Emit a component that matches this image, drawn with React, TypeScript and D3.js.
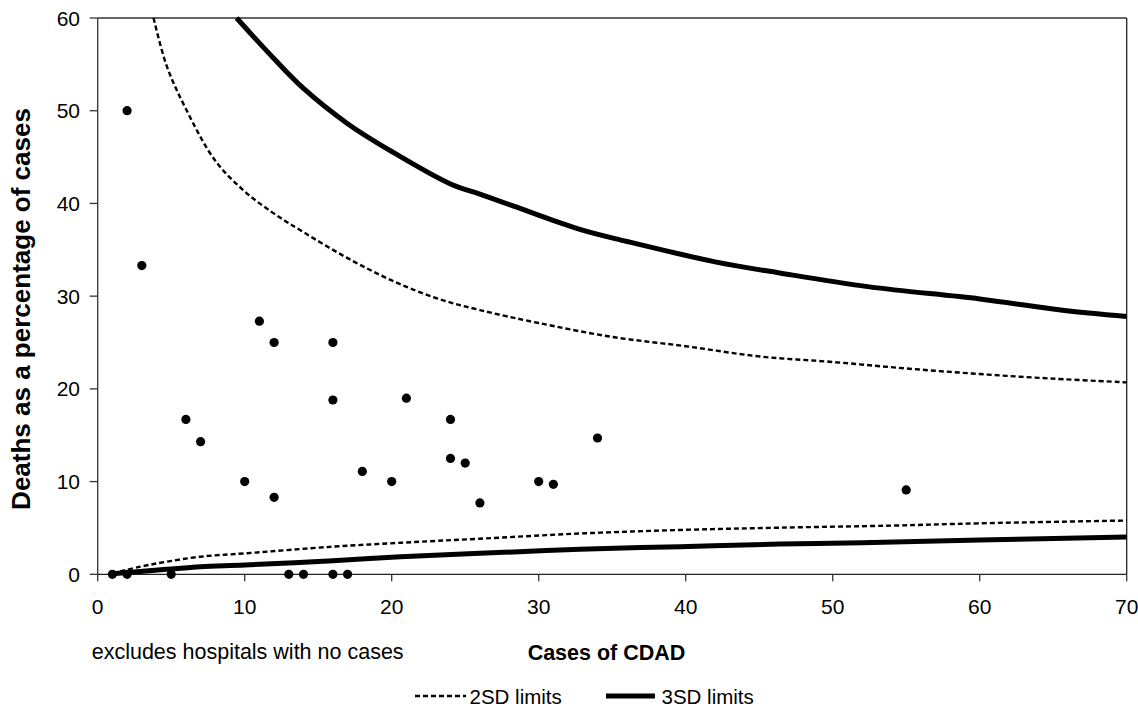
import React from "react";
import * as d3 from "d3";

// Hospitals: cases of CDAD and deaths as % of cases
const casesX = [1, 2, 2, 3, 5, 6, 7, 10, 11, 12, 12, 13, 14, 16, 16, 16, 17, 18, 20, 21, 24, 24, 25, 26, 30, 31, 34, 55];
const deathPct = [0, 50, 0, 33.3, 0, 16.7, 14.3, 10, 27.3, 25, 8.3, 0, 0, 25, 18.8, 0, 0, 11.1, 10, 19.0, 16.7, 12.5, 12, 7.7, 10, 9.7, 14.7, 9.1];

// Control limits
const upper2N = [3.8, 4.7, 6, 8, 10, 12, 14, 17, 20, 23, 26, 30, 35, 40, 45, 50, 55, 60, 65, 70];
const upper2 = [60, 54.8, 50.2, 44.6, 41.3, 38.9, 36.9, 34.1, 31.7, 29.8, 28.5, 27.1, 25.6, 24.6, 23.5, 22.9, 22.2, 21.6, 21.1, 20.7];
const lower2N = [1, 2.9, 4.7, 7, 10, 16, 20.6, 26, 32.8, 39.6, 46.4, 54, 60, 70];
const lower2 = [0.1, 0.82, 1.36, 1.9, 2.26, 2.98, 3.4, 3.84, 4.4, 4.78, 5.03, 5.25, 5.5, 5.8];
const upper3N = [9.45, 12, 14, 17, 20, 24, 26, 28.3, 32.8, 36, 42, 46.4, 52.5, 60, 65.5, 70];
const upper3 = [60, 55.6, 52.4, 48.6, 45.6, 42.1, 41.0, 39.7, 37.2, 35.9, 33.7, 32.5, 31.0, 29.7, 28.5, 27.8];
const lower3N = [1, 4.7, 7, 10, 16, 20.6, 26, 32.8, 39.6, 46.4, 52, 60, 70];
const lower3 = [0.06, 0.54, 0.82, 1.0, 1.47, 1.9, 2.26, 2.7, 2.98, 3.27, 3.4, 3.7, 4.02];

const xTicks = [0, 10, 20, 30, 40, 50, 60, 70];
const yTicks = [0, 10, 20, 30, 40, 50, 60];

const W = 1138;
const H = 706;
const left = 97.7;
const right = 1126.7;
const top = 18;
const bottom = 574.3;
const font = "Arial, 'Liberation Sans', Helvetica, sans-serif";

export default function App() {
  const x = d3.scaleLinear().domain([0, 70]).range([left, right]);
  const y = d3.scaleLinear().domain([0, 60]).range([bottom, top]);
  const line = d3
    .line<[number, number]>()
    .x((d) => x(d[0]))
    .y((d) => y(d[1]))
    .curve(d3.curveCatmullRom.alpha(0.5));
  const pairs = (ns: number[], vs: number[]) => ns.map((n, i) => [n, vs[i]] as [number, number]);

  const dashed = { fill: "none", stroke: "#000", strokeWidth: 2.4, strokeDasharray: "5,3" };
  const solid = { fill: "none", stroke: "#000", strokeWidth: 5 };

  return (
    <svg width={W} height={H} style={{ position: "absolute", left: 0, top: 0, background: "#fff" }} fontFamily={font}>
      <rect x={0} y={0} width={W} height={H} fill="#fff" />
      {/* frame */}
      <line x1={left} x2={right} y1={top} y2={top} stroke="#333" strokeWidth={1.3} />
      <line x1={right} x2={right} y1={top} y2={bottom} stroke="#222" strokeWidth={1.3} />
      <line x1={left} x2={left} y1={top} y2={bottom} stroke="#333" strokeWidth={1.3} />
      <line x1={left} x2={right} y1={bottom} y2={bottom} stroke="#222" strokeWidth={1.3} />
      {/* y ticks */}
      {yTicks.map((t) => (
        <g key={"y" + t}>
          <line x1={left - 8} x2={left} y1={y(t)} y2={y(t)} stroke="#333" strokeWidth={1.3} />
          <text x={80} y={y(t)} dy="0.36em" textAnchor="end" fontSize={21} fill="#000">
            {t}
          </text>
        </g>
      ))}
      {/* x ticks */}
      {xTicks.map((t) => (
        <g key={"x" + t}>
          <line x1={x(t)} x2={x(t)} y1={bottom} y2={bottom + 7} stroke="#333" strokeWidth={1.3} />
          <text x={x(t)} y={613.5} textAnchor="middle" fontSize={21} fill="#000">
            {t}
          </text>
        </g>
      ))}
      {/* limits */}
      <path d={line(pairs(upper2N, upper2)) || ""} {...dashed} />
      <path d={line(pairs(lower2N, lower2)) || ""} {...dashed} />
      <path d={line(pairs(upper3N, upper3)) || ""} {...solid} />
      <path d={line(pairs(lower3N, lower3)) || ""} {...solid} />
      {/* points */}
      {casesX.map((c, i) => (
        <circle key={"p" + i} cx={x(c)} cy={y(deathPct[i])} r={4.6} fill="#000" />
      ))}
      {/* axis titles */}
      <text
        transform={`translate(30, 309) rotate(-90)`}
        textAnchor="middle"
        fontSize={26}
        fontWeight="bold"
        fill="#000"
      >
        Deaths as a percentage of cases
      </text>
      <text x={606.5} y={659.5} textAnchor="middle" fontSize={21.5} fontWeight="bold" fill="#000">
        Cases of CDAD
      </text>
      <text x={91.7} y={659} fontSize={21.5} fill="#000">
        excludes hospitals with no cases
      </text>
      {/* legend */}
      <line x1={415} x2={466} y1={696} y2={696} stroke="#000" strokeWidth={2.4} strokeDasharray="5,3" />
      <text x={469.5} y={703.5} fontSize={20.5} fill="#000">
        2SD limits
      </text>
      <line x1={606} x2={655} y1={696} y2={696} stroke="#000" strokeWidth={5} />
      <text x={661.5} y={703.5} fontSize={20.5} fill="#000">
        3SD limits
      </text>
    </svg>
  );
}
